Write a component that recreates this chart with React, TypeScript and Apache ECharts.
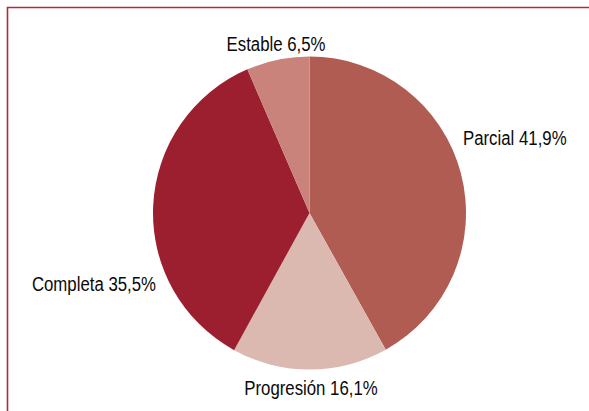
import React, { useEffect, useRef } from "react";
import * as echarts from "echarts";

const categories = ["Parcial", "Progresión", "Completa", "Estable"];
const values = [41.9, 16.1, 35.5, 6.5];
const colors = ["#b05c52", "#dbb9b1", "#9b1f2e", "#c9837a"];
// label anchor positions (x, y, align)
const labelPos: [number, number, string][] = [
  [463, 138, "left"],
  [311, 388, "center"],
  [156, 284, "right"],
  [276, 44, "center"],
];

const fmt = (i: number) =>
  categories[i] + " " + values[i].toFixed(1).replace(".", ",") + "%";

export default function App() {
  const ref = useRef<HTMLDivElement>(null);
  useEffect(() => {
    const chart = echarts.init(ref.current!, null, { renderer: "svg" });
    chart.setOption({
      animation: false,
      backgroundColor: "#ffffff",
      graphic: [
        {
          type: "rect",
          shape: { x: 7.5, y: 7.5, width: 620, height: 440 },
          style: { fill: "none", stroke: "#b5283a", lineWidth: 1.6 },
          silent: true,
        },
        ...categories.map((_, i) => ({
          type: "text",
          x: labelPos[i][0],
          y: labelPos[i][1],
          scaleX: 0.8,
          silent: true,
          style: {
            text: fmt(i),
            fill: "#0a0a0a",
            font: "21px 'Liberation Sans', Arial, sans-serif",
            textAlign: labelPos[i][2],
            textVerticalAlign: "middle",
          },
        })),
      ],
      series: [
        {
          type: "pie",
          center: [309.5, 213],
          radius: [0, 156.5],
          startAngle: 90,
          clockwise: true,
          avoidLabelOverlap: false,
          data: categories.map((c, i) => ({
            name: c,
            value: values[i],
            itemStyle: { color: colors[i] },
          })),
          itemStyle: { borderWidth: 0 },
          label: { show: false },
          labelLine: { show: false },
        },
      ],
    });
    return () => chart.dispose();
  }, []);
  return (
    <div
      ref={ref}
      style={{ position: "absolute", left: 0, top: 0, width: 589, height: 411 }}
    />
  );
}
